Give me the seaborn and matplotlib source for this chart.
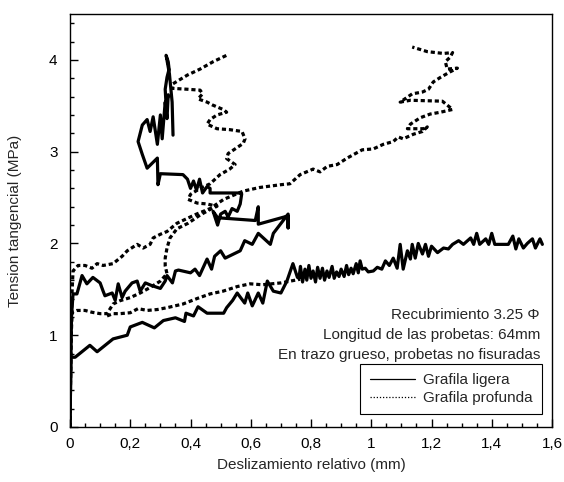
import numpy as np
import pandas as pd
import matplotlib
matplotlib.use("Agg")
import matplotlib.pyplot as plt
import seaborn as sns
from matplotlib.lines import Line2D
from matplotlib.ticker import MultipleLocator, FixedLocator, FixedFormatter

# ---------------- data ----------------
# Grafila ligera - lower curve
lig_a_x = [0, 0.003, 0.017, 0.066, 0.09, 0.143, 0.19, 0.20, 0.24, 0.28, 0.31, 0.35, 0.38, 0.385,
           0.41, 0.425, 0.455, 0.51, 0.52, 0.54, 0.555, 0.58, 0.59, 0.605, 0.625, 0.64, 0.655,
           0.675, 0.70, 0.72, 0.74, 0.755,
           0.76, 0.765, 0.772, 0.78, 0.786, 0.793, 0.80, 0.807, 0.815, 0.822, 0.83, 0.838, 0.845,
           0.853, 0.86, 0.87, 0.877, 0.885, 0.893, 0.90, 0.91, 0.918, 0.925, 0.933, 0.94, 0.95,
           0.957, 0.963, 0.97, 0.98, 0.99, 1.007, 1.02, 1.035, 1.047, 1.06, 1.073, 1.086, 1.096,
           1.106, 1.12, 1.13, 1.136, 1.146, 1.156, 1.17, 1.18, 1.19, 1.20, 1.22, 1.24, 1.256,
           1.27, 1.29, 1.306, 1.33, 1.34, 1.35, 1.36, 1.38, 1.39, 1.40, 1.41, 1.43, 1.455, 1.47,
           1.48, 1.49, 1.505, 1.518, 1.535, 1.545, 1.56, 1.568]
lig_a_y = [0, 0.76, 0.76, 0.89, 0.82, 0.96, 1.00, 1.09, 1.14, 1.08, 1.16, 1.19, 1.15, 1.24,
           1.21, 1.31, 1.24, 1.24, 1.30, 1.38, 1.46, 1.35, 1.46, 1.32, 1.46, 1.35, 1.59,
           1.48, 1.46, 1.59, 1.78, 1.63,
           1.62, 1.75, 1.58, 1.72, 1.60, 1.76, 1.62, 1.70, 1.58, 1.74, 1.62, 1.73, 1.60,
           1.70, 1.63, 1.75, 1.62, 1.69, 1.64, 1.72, 1.64, 1.76, 1.66, 1.73, 1.67, 1.78,
           1.68, 1.81, 1.72, 1.73, 1.69, 1.70, 1.74, 1.72, 1.81, 1.76, 1.84, 1.73, 1.99,
           1.72, 1.92, 1.83, 1.99, 1.84, 2.00, 1.885, 1.99, 1.86, 1.97, 1.90, 1.95, 1.94,
           1.99, 2.03, 1.99, 2.06, 1.99, 2.11, 1.99, 2.05, 1.99, 2.11, 1.99, 1.99, 1.99, 2.08,
           1.94, 2.05, 1.95, 2.00, 2.05, 1.95, 2.05, 1.99]

# Grafila ligera - upper curve with loop
lig_b_x = [0, 0.005, 0.01, 0.023, 0.04, 0.056, 0.076, 0.10, 0.11, 0.116, 0.14, 0.15, 0.16, 0.173,
           0.183, 0.206, 0.223, 0.233, 0.25, 0.272, 0.30, 0.316, 0.322, 0.34, 0.35, 0.36, 0.40,
           0.415, 0.43, 0.455, 0.47, 0.48, 0.50, 0.515, 0.565, 0.58, 0.605, 0.625, 0.665, 0.675,
           0.724, 0.724, 0.724, 0.625, 0.625, 0.615, 0.49, 0.475, 0.49, 0.50, 0.515, 0.525, 0.538,
           0.555, 0.565, 0.57, 0.56, 0.465, 0.465, 0.455, 0.44, 0.43, 0.42, 0.41, 0.40, 0.39,
           0.375, 0.30, 0.292, 0.29, 0.256, 0.24, 0.226, 0.24, 0.256, 0.266, 0.276, 0.29, 0.30,
           0.306, 0.316, 0.322, 0.326, 0.319, 0.316, 0.322, 0.329, 0.326, 0.319, 0.33, 0.339, 0.342]
lig_b_y = [0, 1.20, 1.45, 1.45, 1.65, 1.56, 1.63, 1.57, 1.48, 1.43, 1.46, 1.38, 1.56, 1.41,
           1.48, 1.57, 1.59, 1.48, 1.57, 1.54, 1.51, 1.59, 1.65, 1.57, 1.70, 1.71, 1.68,
           1.72, 1.65, 1.83, 1.72, 1.86, 1.92, 1.84, 1.92, 2.03, 1.99, 2.11, 1.99, 2.11,
           2.32, 2.17, 2.30, 2.21, 2.40, 2.25, 2.28, 2.35, 2.20, 2.32, 2.35, 2.29, 2.38,
           2.35, 2.43, 2.54, 2.55, 2.55, 2.60, 2.62, 2.55, 2.70, 2.58, 2.68, 2.60, 2.70,
           2.75, 2.76, 2.64, 2.93, 2.82, 2.97, 3.11, 3.29, 3.35, 3.22, 3.38, 3.08, 3.40,
           3.14, 3.54, 3.36, 3.62, 3.51, 3.68, 3.81, 3.90, 3.98, 4.05, 3.85, 3.54, 3.18]

# Grafila profunda - long upper curve
prof_a_x = [0, 0.003, 0.007, 0.01, 0.027, 0.05, 0.073, 0.09, 0.11, 0.143, 0.173, 0.19, 0.223,
            0.243, 0.266, 0.276, 0.30, 0.322, 0.355, 0.42, 0.465, 0.51, 0.575, 0.63, 0.70, 0.73,
            0.764, 0.807, 0.83, 0.854, 0.887, 0.92, 0.97, 1.007, 1.04, 1.073, 1.09, 1.106, 1.14,
            1.17, 1.186, 1.173, 1.12, 1.13, 1.163, 1.196, 1.23, 1.27, 1.236, 1.13, 1.096, 1.136,
            1.17, 1.19, 1.206, 1.23, 1.262, 1.286, 1.252, 1.246, 1.262, 1.27, 1.24, 1.186, 1.136]
prof_a_y = [0, 0.94, 1.48, 1.70, 1.76, 1.76, 1.73, 1.78, 1.76, 1.78, 1.86, 1.92, 1.99,
            1.95, 1.99, 2.06, 2.10, 2.13, 2.22, 2.32, 2.38, 2.48, 2.57, 2.61, 2.64, 2.65,
            2.75, 2.81, 2.78, 2.84, 2.86, 2.93, 3.02, 3.03, 3.08, 3.11, 3.16, 3.14, 3.19,
            3.22, 3.27, 3.25, 3.25, 3.30, 3.37, 3.41, 3.43, 3.46, 3.55, 3.56, 3.54, 3.63,
            3.65, 3.68, 3.76, 3.81, 3.87, 3.91, 3.90, 3.98, 4.03, 4.08, 4.07, 4.09, 4.14]

# Grafila profunda - lower curve, rising branch
prof_b_x = [0, 0.003, 0.007, 0.023, 0.05, 0.073, 0.10, 0.123, 0.143, 0.166, 0.20, 0.233, 0.266,
            0.30, 0.322, 0.316, 0.316, 0.322, 0.332, 0.355, 0.392, 0.432, 0.465, 0.488, 0.455,
            0.422, 0.392, 0.40, 0.432, 0.465, 0.498, 0.53, 0.548, 0.52, 0.525, 0.548, 0.575,
            0.581, 0.571, 0.53, 0.488, 0.455, 0.465, 0.488, 0.52, 0.508, 0.472, 0.455, 0.425,
            0.44, 0.432, 0.39, 0.339, 0.342, 0.39, 0.432, 0.475, 0.52]
prof_b_y = [0, 0.90, 1.25, 1.27, 1.27, 1.25, 1.235, 1.235, 1.34, 1.376, 1.41, 1.46, 1.52,
            1.59, 1.67, 1.755, 1.84, 1.95, 2.06, 2.16, 2.22, 2.31, 2.37, 2.405, 2.43,
            2.44, 2.48, 2.535, 2.60, 2.65, 2.75, 2.81, 2.86, 2.925, 2.98, 3.03, 3.09,
            3.14, 3.22, 3.24, 3.25, 3.30, 3.35, 3.40, 3.43, 3.46, 3.51, 3.54, 3.575,
            3.63, 3.67, 3.68, 3.69, 3.74, 3.835, 3.90, 3.98, 4.05]

# Grafila profunda - lower curve, horizontal branch
prof_c_x = [0.123, 0.143, 0.166, 0.20, 0.226, 0.256, 0.29, 0.322, 0.375, 0.422, 0.465, 0.508,
            0.555, 0.598, 0.638, 0.70, 0.764]
prof_c_y = [1.21, 1.235, 1.235, 1.245, 1.29, 1.27, 1.28, 1.30, 1.34, 1.40, 1.45, 1.48,
            1.53, 1.56, 1.55, 1.57, 1.61]

x_ticks = [0, 0.2, 0.4, 0.6, 0.8, 1.0, 1.2, 1.4, 1.6]
x_tick_labels = ["0", "0,2", "0,4", "0,6", "0,8", "1", "1,2", "1,4", "1,6"]
y_ticks = [0, 1, 2, 3, 4]
y_tick_labels = ["0", "1", "2", "3", "4"]

legend_labels = ["Grafila ligera", "Grafila profunda"]
notes = ["Recubrimiento 3.25 \u03A6", "Longitud de las probetas: 64mm",
         "En trazo grueso, probetas no fisuradas"]

# ---------------- style ----------------
sns.set_style("white")
plt.rcParams['font.family'] = ['Liberation Sans', 'DejaVu Sans']
FS = 11

fig = plt.figure(figsize=(5.64, 4.82), dpi=100)
ax = fig.add_axes([70 / 564, 1 - 427 / 482, 482 / 564, 413 / 482])

solid = dict(color="black", linewidth=2.3, linestyle="-")
dotted = dict(color="black", linewidth=2.3, linestyle=(0, (1.3, 0.9)))


def draw(xs, ys, style):
    df = pd.DataFrame({"x": xs, "y": ys})
    sns.lineplot(data=df, x="x", y="y", sort=False, estimator=None, ax=ax,
                 legend=False, **style)


draw(prof_c_x, prof_c_y, dotted)
draw(prof_b_x, prof_b_y, dotted)
draw(prof_a_x, prof_a_y, dotted)
draw(lig_a_x, lig_a_y, solid)
draw(lig_b_x, lig_b_y, solid)

ax.set_xlim(0, 1.6)
ax.set_ylim(0, 4.5)

ax.xaxis.set_major_locator(FixedLocator(x_ticks))
ax.xaxis.set_major_formatter(FixedFormatter(x_tick_labels))
ax.yaxis.set_major_locator(FixedLocator(y_ticks))
ax.yaxis.set_major_formatter(FixedFormatter(y_tick_labels))
ax.xaxis.set_minor_locator(MultipleLocator(0.05))
ax.yaxis.set_minor_locator(MultipleLocator(0.2))

ax.tick_params(axis="both", which="both", direction="in", colors="black",
               labelsize=FS, width=1.0)
ax.tick_params(axis="both", which="major", length=5.5)
ax.tick_params(axis="both", which="minor", length=3)
ax.tick_params(axis="x", which="major", pad=7)
ax.tick_params(axis="y", which="major", pad=9)
ax.tick_params(left=True, bottom=True, right=False, top=False, which="both")

for s in ax.spines.values():
    s.set_visible(True)
    s.set_color("black")
    s.set_linewidth(1.0)

ax.set_xlabel("Deslizamiento relativo (mm)", fontsize=FS)
ax.set_ylabel("Tension tangencial (MPa)", fontsize=FS)
ax.xaxis.set_label_coords(0.5, -0.075)
ax.yaxis.set_label_coords(-0.1, 0.5)

for i, t in enumerate(notes):
    ax.text(0.975, 0.271 - i * 0.0485, t, transform=ax.transAxes, ha="right",
            va="center", fontsize=FS)

handles = [Line2D([], [], color="black", linewidth=0.9, linestyle="-"),
           Line2D([], [], color="black", linewidth=0.9, linestyle=(0, (1, 1.5)))]
leg = ax.legend(handles, legend_labels, loc="lower right",
                bbox_to_anchor=(0.979, 0.031), borderaxespad=0, fontsize=FS,
                frameon=True, fancybox=False, framealpha=1, edgecolor="black",
                handlelength=3.0, handletextpad=0.5, labelspacing=0.25,
                borderpad=0.6)
leg.get_frame().set_linewidth(0.8)

fig.savefig("out.png", dpi=100)
